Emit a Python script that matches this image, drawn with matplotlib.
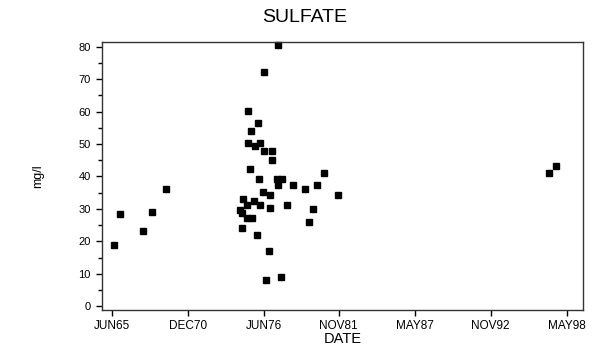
import matplotlib
matplotlib.use('Agg')
import matplotlib.pyplot as plt
import pandas as pd
from matplotlib.ticker import MultipleLocator

plt.rcParams['font.family'] = 'Liberation Sans'

# Sample dates (year-month) and sulfate values (mg/l)
sample_dates = [
    '1965-08', '1966-01', '1967-09', '1968-05', '1969-05',
    '1977-06', '1976-06', '1975-04', '1976-01', '1975-07',
    '1975-04', '1975-10', '1976-03', '1976-06', '1977-01',
    '1977-01', '1975-06', '1976-02', '1977-05', '1977-10',
    '1977-06', '1978-07', '1976-05', '1976-11', '1974-12',
    '1975-09', '1976-03', '1976-11', '1978-02', '1974-09',
    '1975-03', '1974-11', '1975-03', '1975-08', '1974-11',
    '1975-12', '1976-10', '1976-08', '1977-09', '1979-06',
    '1980-04', '1979-09', '1980-01', '1980-10', '1981-10',
    '1997-02', '1997-08',
]
sulfate = [
    19.0, 28.3, 23.1, 29.1, 36.0,
    80.5, 72.1, 60.1, 56.5, 54.1,
    50.2, 49.4, 50.2, 47.9, 47.9,
    45.1, 42.3, 39.2, 39.1, 39.1,
    37.5, 37.3, 35.3, 34.4, 33.0,
    32.3, 31.2, 30.2, 31.2, 29.6,
    31.2, 28.6, 27.1, 27.1, 24.0,
    21.9, 17.1, 8.2, 9.0, 36.0,
    37.3, 26.1, 30.0, 41.0, 34.3,
    41.0, 43.2,
]

tick_dates = ['1965-06', '1970-12', '1976-06', '1981-11', '1987-05', '1992-11', '1998-05']
tick_labels = ['JUN65', 'DEC70', 'JUN76', 'NOV81', 'MAY87', 'NOV92', 'MAY98']

dates = pd.to_datetime(sample_dates, format='%Y-%m')
ticks = pd.to_datetime(tick_dates, format='%Y-%m')

fig = plt.figure(figsize=(6.10, 3.52), dpi=100)
ax = fig.add_axes([0.1672, 0.1193, 0.7885, 0.7614])

ax.plot(dates, sulfate, linestyle='none', marker='s', markersize=4.8,
        color='black', clip_on=False)

# Axis ranges
ax.set_xlim(pd.Timestamp('1964-09-10'), pd.Timestamp('1999-07-10'))
ax.set_ylim(-1.2, 81.5)

# X ticks
ax.set_xticks(ticks)
ax.set_xticklabels(tick_labels)
ax.tick_params(axis='x', direction='out', length=4, width=1, labelsize=8.5, pad=3)

# Y ticks
ax.yaxis.set_major_locator(MultipleLocator(10))
ax.yaxis.set_minor_locator(MultipleLocator(5))
ax.tick_params(axis='y', which='major', direction='out', length=4, width=1, labelsize=8, pad=4)
ax.tick_params(axis='y', which='minor', direction='out', length=3, width=1)

for sp in ax.spines.values():
    sp.set_linewidth(1.0)
    sp.set_color('#333333')

ax.set_xlabel('DATE', fontsize=10.5, labelpad=0)
fig.text(0.062, 0.5, 'mg/l', rotation=90, ha='center', va='center', fontsize=9)
fig.text(0.5, 1 - 18 / 352, 'SULFATE', ha='center', va='center', fontsize=14)

fig.savefig('out.png', dpi=100)
